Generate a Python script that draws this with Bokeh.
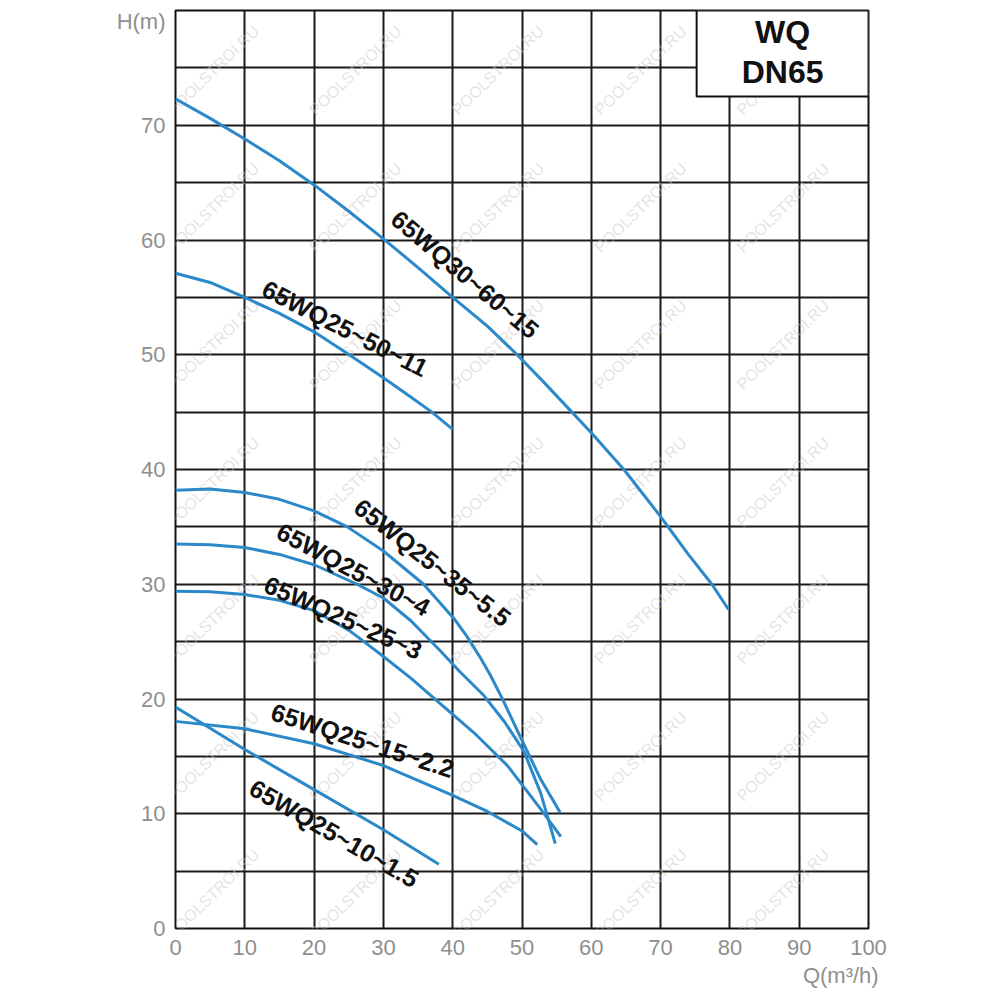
from bokeh.plotting import figure
from bokeh.models import Range1d, Label, LinearAxis, FixedTicker
from bokeh.core.properties import value
from bokeh.embed import file_html
from bokeh.resources import INLINE

# ---- data ----
q_30_60_15 = [0, 5, 10, 15, 20, 25, 30, 35, 40, 45, 49.3, 53, 57.2, 60, 64.7, 70, 74, 77.4, 79.8]
h_30_60_15 = [72.3, 70.6, 68.8, 66.9, 64.8, 62.5, 60.1, 57.6, 55.0, 52.5, 50.0, 47.7, 45.0, 43.2,
              40.0, 35.9, 32.6, 30.0, 27.8]

q_50_11 = [0, 5, 9.6, 15, 20, 24.8, 30, 34, 37, 40]
h_50_11 = [57.1, 56.3, 55.1, 53.6, 52.0, 50.1, 48.0, 46.3, 45.0, 43.5]

q_35_5_5 = [0, 5, 10, 15, 20, 24.8, 30, 35.8, 40.2, 42, 44, 45.5, 47.1, 50, 52.7, 55.5]
h_35_5_5 = [38.2, 38.3, 38.0, 37.4, 36.4, 35.0, 32.9, 30.0, 27.0, 25.5, 23.6, 22.0, 20.1, 16.4,
            13.0, 10.1]

q_30_4 = [0, 5, 10, 15, 20, 26.2, 30, 34, 38.2, 41, 44.5, 47.5, 50.3, 52.7, 54.8]
h_30_4 = [33.5, 33.45, 33.2, 32.6, 31.7, 30.0, 28.8, 26.8, 24.2, 22.4, 20.3, 18.0, 15.4, 11.8, 7.4]

q_25_3 = [0, 5, 10, 15, 20, 25, 27.2, 30, 34, 38.2, 43, 47.9, 52.7, 55.6]
h_25_3 = [29.4, 29.35, 29.1, 28.6, 27.7, 26.0, 25.0, 23.7, 21.8, 19.6, 17.1, 14.2, 10.4, 8.0]

q_15_2_2 = [0, 10, 20, 30, 40, 45, 50, 52.2]
h_15_2_2 = [18.05, 17.4, 16.1, 14.2, 11.6, 10.2, 8.5, 7.3]

q_10_1_5 = [0, 10, 20, 30, 38]
h_10_1_5 = [19.3, 15.6, 12.1, 8.6, 5.6]

curve_names = ["65WQ30~60~15", "65WQ25~50~11", "65WQ25~35~5.5", "65WQ25~30~4",
               "65WQ25~25~3", "65WQ25~15~2.2", "65WQ25~10~1.5"]
curve_q = [q_30_60_15, q_50_11, q_35_5_5, q_30_4, q_25_3, q_15_2_2, q_10_1_5]
curve_h = [h_30_60_15, h_50_11, h_35_5_5, h_30_4, h_25_3, h_15_2_2, h_10_1_5]

# label anchor (data coords) and angle (deg) per curve
label_x = [41.8, 24.5, 37.1, 25.7, 24.2, 27.0, 22.9]
label_y = [57.0, 52.3, 31.9, 31.3, 27.1, 16.4, 8.3]
label_ang = [-40, -27, -38, -28, -24, -18, -30]

x_ticks = list(range(0, 101, 10))
y_ticks = list(range(0, 71, 10))
y_title = "H(m)"
x_title = "Q(m³/h)"
title_lines = ["WQ", "DN65"]
watermark = "POOLSTROI.RU"

# ---- layout ----
FL, FW, FT, FH = 175, 693, 10, 920
p = figure(width=FL + FW + 100, height=FT + FH + 60,
           x_range=Range1d(0, 100), y_range=Range1d(0, 80),
           output_backend="svg", toolbar_location=None,
           min_border_left=FL, min_border_right=100,
           min_border_top=FT, min_border_bottom=60)
p.background_fill_color = "white"
p.border_fill_color = "white"
p.outline_line_color = "#111111"
p.outline_line_width = 2

p.xgrid.ticker = x_ticks
p.ygrid.ticker = list(range(0, 81, 5))
for g in (p.xgrid, p.ygrid):
    g.grid_line_color = "#1a1a1a"
    g.grid_line_width = 2

p.xaxis.ticker = x_ticks
p.yaxis.ticker = y_ticks + [79]
p.yaxis.major_label_overrides = {79: y_title}

q_axis = LinearAxis(ticker=FixedTicker(ticks=[96]), major_label_overrides={96: x_title})
p.add_layout(q_axis, "below")

for ax in (p.xaxis + p.yaxis):
    ax.axis_line_color = None
    ax.major_tick_line_color = None
    ax.minor_tick_line_color = None
    ax.major_tick_out = 0
    ax.major_tick_in = 0
    ax.major_label_text_color = "#8f8f8f"
    ax.major_label_text_font = "Liberation Sans"
    ax.major_label_text_font_size = "22px"
p.xaxis[0].major_label_standoff = 11
q_axis.major_label_standoff = 5
p.yaxis.major_label_standoff = 10

def px_to_data(px, py):
    return ((px - FL) / (FW / 100.0), (FT + FH - py) / (FH / 80.0))

# watermark (inside the frame only)
for r in range(7):
    for c in range(1, 6):
        wx, wy = px_to_data(70 + 142.5 * c, 70 + 137.5 * r)
        p.add_layout(Label(x=wx, y=wy, text=watermark, angle=44, angle_units="deg",
                           text_align="center", text_baseline="middle",
                           text_font="Liberation Sans", text_font_size="16px",
                           text_color="#c8c8c8", text_alpha=0.5, level="underlay"))

# curves
for q, h in zip(curve_q, curve_h):
    p.line(q, h, line_color="#2b88c9", line_width=3, line_join="round")

# curve labels
for name, lx, ly, la in zip(curve_names, label_x, label_y, label_ang):
    p.text(x=[lx], y=[ly], text=[name], angle=la, angle_units="deg",
           text_align="center", text_baseline="middle",
           text_font=value("Liberation Sans"), text_font_style="bold",
           text_font_size="25px", text_color="#111111")

# title box
p.quad(left=[75.2], right=[100], bottom=[72.5], top=[80],
       fill_color="white", line_color="#111111", line_width=2)
p.text(x=[87.6, 87.6], y=[78.1, 74.6], text=title_lines,
       text_align="center", text_baseline="middle",
       text_font=value("Liberation Sans"), text_font_style="bold",
       text_font_size="32px", text_color="#111111")

open("out.html", "w").write(file_html(p, INLINE))
